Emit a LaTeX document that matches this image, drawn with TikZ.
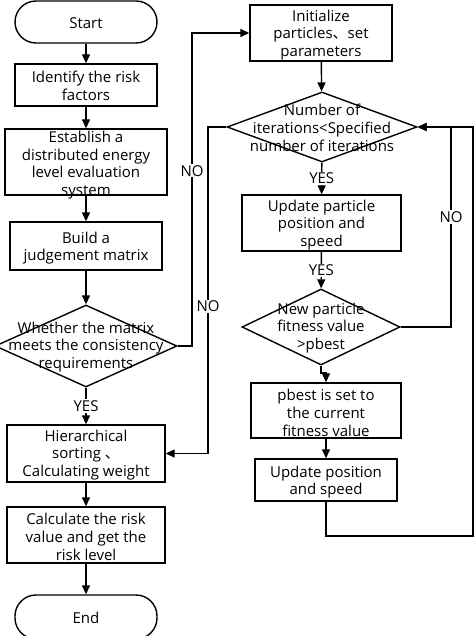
\documentclass[tikz,border=0pt]{standalone}
\usepackage{fontspec}
\setmainfont{Open Sans}
\newfontfamily\cjk{Noto Sans CJK SC}
\usetikzlibrary{shapes.geometric,arrows.meta}
\begin{document}
\begin{tikzpicture}[x=1pt,y=-1pt,
  box/.style={draw,line width=1.4pt,rectangle,inner sep=0pt},
  term/.style={draw,line width=1.4pt,rectangle,rounded corners=21pt,inner sep=0pt},
  dec/.style={draw,line width=1.4pt,diamond,inner sep=0pt},
  txt/.style={align=center,inner sep=0pt,font=\fontsize{15}{17.7}\selectfont},
  lab/.style={fill=white,inner sep=1pt,font=\fontsize{15}{17}\selectfont},
  conn/.style={line width=1.4pt,-{Triangle[length=9pt,width=8pt]}},
  line/.style={line width=1.4pt}]
\useasboundingbox (0,0) rectangle (474,636);
% left column
\node[term,minimum width=142pt,minimum height=42pt] (start) at (86,22) {};
\node[txt] at (86,23) {Start};
\node[box,minimum width=142pt,minimum height=42pt] (ident) at (86,85) {};
\node[txt] at (86,86) {Identify the risk\\factors};
\node[box,minimum width=162pt,minimum height=66pt] (estab) at (86,162) {};
\node[txt] at (86,165) {Establish a\\distributed energy\\level evaluation\\system};
\node[box,minimum width=152pt,minimum height=48pt] (build) at (86,246) {};
\node[txt] at (86,248) {Build a\\judgement matrix};
\node[dec,minimum width=182pt,minimum height=82pt] (d1) at (86,346) {};
\node[txt] at (86,347) {Whether the matrix\\meets the consistency\\requirements};
\node[box,minimum width=158pt,minimum height=57pt] (hier) at (86,453.5) {};
\node[txt] at (86,455) {Hierarchical\\sorting {\cjk 、}\\Calculating weight};
\node[box,minimum width=158pt,minimum height=56pt] (calc) at (86,535) {};
\node[txt] at (86,537) {Calculate the risk\\value and get the\\risk level};
\node[term,minimum width=142pt,minimum height=44pt] (end) at (86,617) {};
\node[txt] at (86,618) {End};
% right column
\node[box,minimum width=142pt,minimum height=56pt] (init) at (321,33) {};
\node[txt] at (321,35) {Initialize\\particles{\cjk 、}set\\parameters};
\node[dec,minimum width=190pt,minimum height=70pt] (d2) at (322,127) {};
\node[txt] at (322,128) {Number of\\iterations<Specified\\number of iterations};
\node[box,minimum width=159pt,minimum height=56pt] (upd1) at (321.5,223) {};
\node[txt] at (321.5,225) {Update particle\\position and\\speed};
\node[dec,minimum width=158pt,minimum height=76pt] (d3) at (321,327) {};
\node[txt] at (321,328) {New particle\\fitness value\\>pbest};
\node[box,minimum width=150pt,minimum height=55pt] (pbest) at (326,410.5) {};
\node[txt] at (326,413) {pbest is set to\\the current\\fitness value};
\node[box,minimum width=142pt,minimum height=42pt] (upd2) at (326,480) {};
\node[txt] at (326,482) {Update position\\and speed};
% connectors
\draw[conn] (start) -- (ident);
\draw[conn] (ident) -- (estab);
\draw[conn] (estab) -- (build);
\draw[conn] (build) -- (d1);
\draw[conn] (d1) -- node[lab,pos=0.5] {YES} (hier);
\draw[conn] (hier) -- (calc);
\draw[conn] (calc) -- (end);
\draw[conn] (d1.east) -- (192,346) -- node[lab,pos=0.56] {NO} (192,33) -- (init.west);
\draw[conn] (init) -- (d2);
\draw[conn] (d2.west) -- (208,127) -- node[lab,pos=0.55] {NO} (208,453.5) -- (hier.east);
\draw[conn] (d2) -- node[lab,pos=0.5] {YES} (upd1);
\draw[conn] (upd1) -- node[lab,pos=0.5] {YES} (d3);
\draw[conn] (d3.south) -- (321,373) -- (326,373) -- (pbest.north);
\draw[conn] (pbest) -- (upd2);
\draw[conn] (d3.east) -- (451,327) -- node[lab,pos=0.55] {NO} (451,127) -- (d2.east);
\draw[conn] (upd2.south) -- (326,536) -- (473,536) -- (473,127) -- (d2.east);
\end{tikzpicture}
\end{document}
